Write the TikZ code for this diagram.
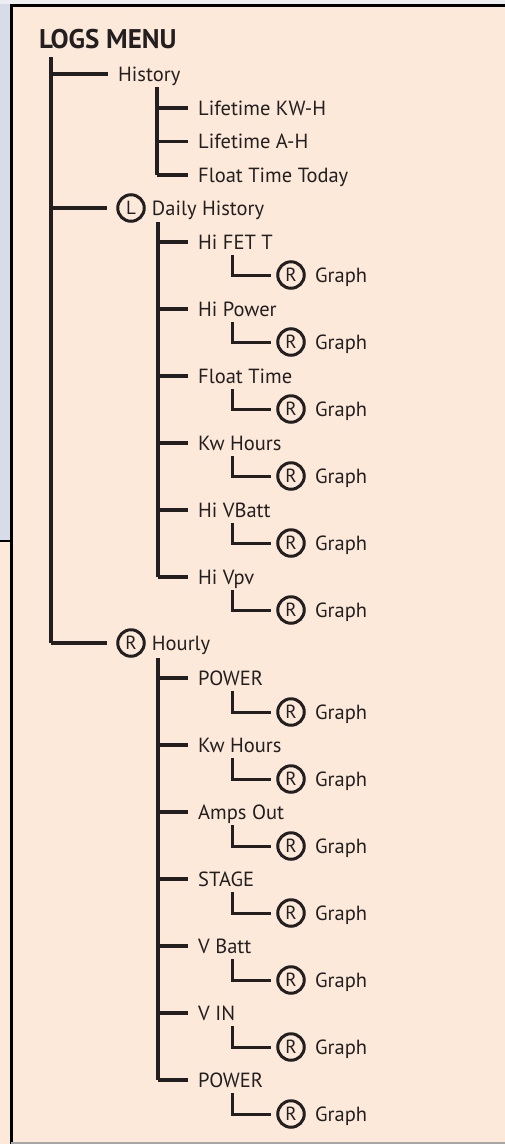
\documentclass[tikz,border=0pt]{standalone}
\usepackage{fontspec}
\setsansfont{PT Sans}
\renewcommand{\familydefault}{\sfdefault}
\usetikzlibrary{positioning}

\definecolor{peach}{RGB}{252,233,217}
\definecolor{ink}{RGB}{35,31,32}
\definecolor{sidegrey}{RGB}{216,220,232}
\definecolor{topgrey}{RGB}{238,238,242}

\tikzset{
  tree/.style={draw=ink, line width=3.4pt},
  elbow/.style={draw=ink, line width=3pt},
  item/.style={anchor=west, inner xsep=10pt, inner ysep=0pt, text height=14pt,
    text depth=0pt, text=ink, font=\fontsize{20.5}{22}\selectfont},
  circled/.style={circle, draw=ink, line width=3pt, minimum size=26.5pt,
    inner sep=0pt, text=ink, font=\fontsize{19}{19}\selectfont},
  after/.style={item, inner xsep=6pt}
}

\begin{document}
\begin{tikzpicture}[x=1pt, y=-1pt]

  \useasboundingbox (0,0) rectangle (505,1144);

  % === PANEL ===
  \fill[peach] (0,0) rectangle (505,1144);
  \fill[sidegrey] (0,0) rectangle (10,541);
  \fill[topgrey] (0,0) rectangle (505,4);
  \draw[black, line width=3pt] (11.5,4) -- (11.5,1144);
  \draw[black, line width=3pt] (10,5.5) -- (505,5.5);
  \draw[black, line width=2pt] (0,541) -- (10,541);
  \draw[gray!70, line width=2pt] (11,1143) -- (505,1143);

  % === TOP LEVEL ===
  \node[anchor=west, inner sep=0pt, text=ink,
        font=\bfseries\fontsize{27}{29}\selectfont] (logs) at (39,39) {LOGS MENU};
  \coordinate (trunk) at (51,57);

  \node[item] (history) at (108,74) {History};
  \node[circled] (dailyL) at (131,208) {L};
  \node[after, right=0pt of dailyL] (daily) {Daily History};
  \node[circled] (hourlyR) at (131,643) {R};
  \node[after, right=0pt of hourlyR] (hourly) {Hourly};

  \draw[tree] (trunk) -- (trunk |- hourlyR);
  \draw[tree] (trunk |- history) -- (history.west);
  \draw[tree, shorten >=9pt] (trunk |- dailyL) -- (dailyL.west);
  \draw[tree, shorten >=9pt] (trunk |- hourlyR) -- (hourlyR.west);

  % === HISTORY ===
  \coordinate (hsub) at (157,87);
  \foreach \lab [count=\i from 0] in {Lifetime KW-H, Lifetime A-H, Float Time Today} {
    \node[item] (h\i) at (188,{108+33.5*\i}) {\lab};
    \draw[tree] (hsub |- h\i) -- (h\i.west);
  }
  \draw[tree] (hsub) -- (hsub |- h2);

  % === DAILY HISTORY ===
  \coordinate (dsub) at (158,222);
  \foreach \lab [count=\i from 0] in {Hi FET T, Hi Power, Float Time, Kw Hours, Hi VBatt, Hi Vpv} {
    \node[item] (d\i) at (188,{242+67*\i}) {\lab};
    \node[circled] (dR\i) at (291,{275+67*\i}) {R};
    \node[item] (dG\i) at (305,{275+67*\i}) {Graph};
    \coordinate (de\i) at (232,{255+67*\i});
    \draw[tree] (dsub |- d\i) -- (d\i.west);
    \draw[elbow, shorten >=5pt] (de\i) |- (dR\i.west);
  }
  \draw[tree] (dsub) -- (dsub |- d5);

  % === HOURLY ===
  \coordinate (rsub) at (158,658);
  \foreach \lab [count=\i from 0] in {POWER, Kw Hours, Amps Out, STAGE, V Batt, V IN, POWER} {
    \node[item] (r\i) at (188,{678+67*\i}) {\lab};
    \node[circled] (rR\i) at (291,{712+67*\i}) {R};
    \node[item] (rG\i) at (305,{712+67*\i}) {Graph};
    \coordinate (re\i) at (232,{691+67*\i});
    \draw[tree] (rsub |- r\i) -- (r\i.west);
    \draw[elbow, shorten >=5pt] (re\i) |- (rR\i.west);
  }
  \draw[tree] (rsub) -- (rsub |- r6);

\end{tikzpicture}
\end{document}
